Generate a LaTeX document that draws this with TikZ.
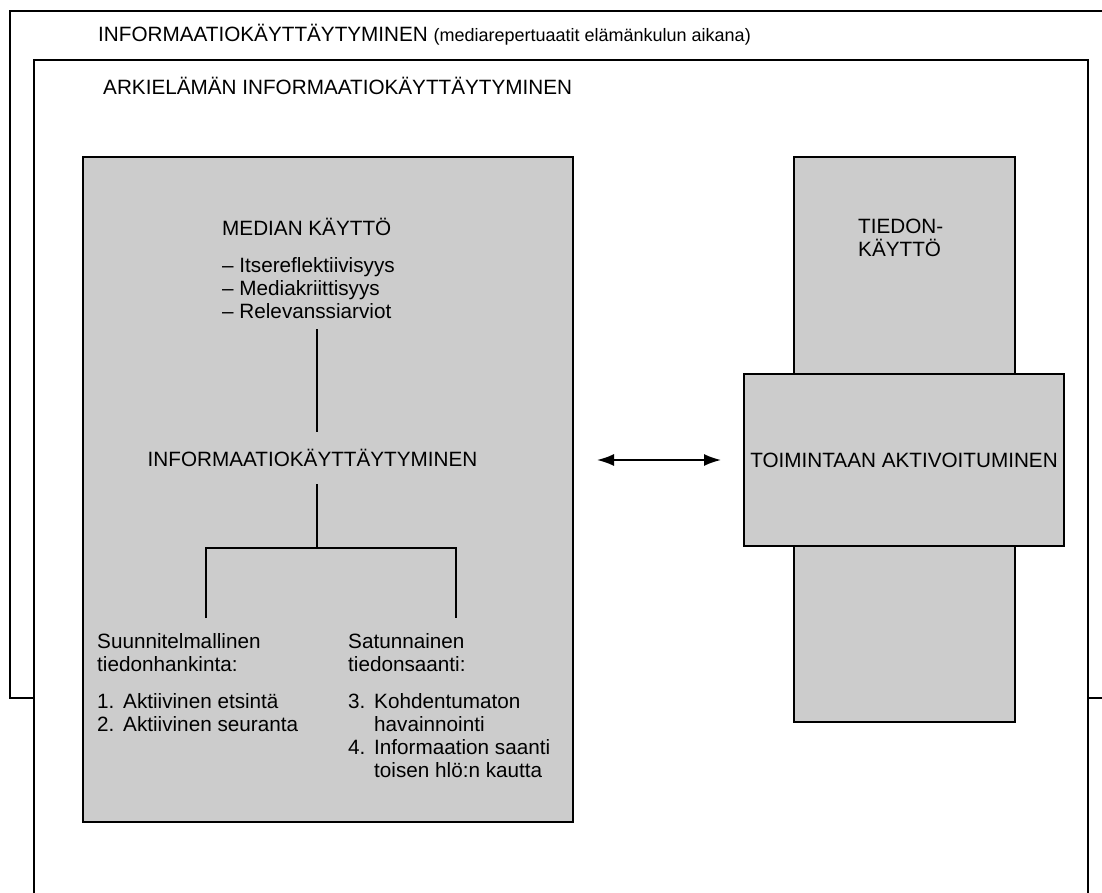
\documentclass[tikz,border=0pt]{standalone}
\usepackage{fontspec}
\setmainfont{Liberation Sans}
\usepackage{tikz}
\usetikzlibrary{positioning,arrows.meta,calc}
\definecolor{boxgray}{RGB}{204,204,204}
\newcommand\numlab[1]{\makebox[26pt][l]{#1}}

\begin{document}
\begin{tikzpicture}[x=1pt,y=-1pt,
      every node/.style={inner sep=0pt,font=\fontsize{20.7}{23}\selectfont},
      frame/.style={draw,line width=2.8pt},
      graybox/.style={draw,line width=2.2pt,fill=boxgray,outer sep=0pt},
      txt/.style={anchor=base west,align=left},
      treeline/.style={line width=2.2pt}
    ]
    \useasboundingbox (0,0) rectangle (1102,893);
    \clip (0,0) rectangle (1102,893);

    % the frames
    \draw[frame] (10,11) rectangle (1120,698);
    \draw[frame,fill=white] (34,60) rectangle (1088,910);
    \node[txt] (outertitle) at (98,42) {INFORMAATIOKÄYTTÄYTYMINEN
      {\fontsize{18}{20}\selectfont(mediarepertuaatit elämänkulun aikana)}};
    \node[txt] (innertitle) at (103,95) {ARKIELÄMÄN INFORMAATIOKÄYTTÄYTYMINEN};

    % the media box (base = last line)
    \node[graybox,anchor=north west,minimum width=490pt,minimum height=665pt] (mediabox) at (83,157) {};
    \node[txt] (median) at (222,318) {MEDIAN KÄYTTÖ\\[14pt]
      – Itsereflektiivisyys\\– Mediakriittisyys\\– Relevanssiarviot};
    \node[minimum height=52pt] (info) at (312.5,458) {INFORMAATIOKÄYTTÄYTYMINEN};
    \node[txt] (planhead) at (97,671) {Suunnitelmallinen\\tiedonhankinta:};
    \node[txt] (planlist) at (97,731) {\numlab{1.}Aktiivinen etsintä\\\numlab{2.}Aktiivinen seuranta};
    \node[txt] (randhead) at (348,671) {Satunnainen\\tiedonsaanti:};
    \node[txt] (randlist) at (348,777) {\numlab{3.}Kohdentumaton\\\numlab{}havainnointi\\
      \numlab{4.}Informaation saanti\\\numlab{}toisen hlö:n kautta};

    % the tree
    \coordinate (fork) at (317,548);
    \coordinate (legL) at (206,618);
    \coordinate (legR) at (456,618);
    \draw[treeline] ($(info.north |- median.south)+(4.5,11)$) -- ($(info.north)+(4.5,0)$);
    \draw[treeline] ($(info.south)+(4.5,0)$) -- (fork);
    \draw[treeline] (legL) |- (fork) -| (legR);

    % the use boxes
    \node[graybox,anchor=north west,minimum width=221pt,minimum height=565pt] (usebox) at (794,157) {};
    \node[txt] (usetext) at (858,257) {TIEDON-\\KÄYTTÖ};
    \node[graybox,minimum width=320pt,minimum height=172pt] (actbox) at (904,460) {TOIMINTAAN AKTIVOITUMINEN};

    % the arrow
    \draw[<->,>={Latex[length=17pt,width=12pt]},line width=1.8pt,shorten <=24pt,shorten >=23pt]
      (mediabox.east |- actbox.west) -- (actbox.west);
\end{tikzpicture}
\end{document}
